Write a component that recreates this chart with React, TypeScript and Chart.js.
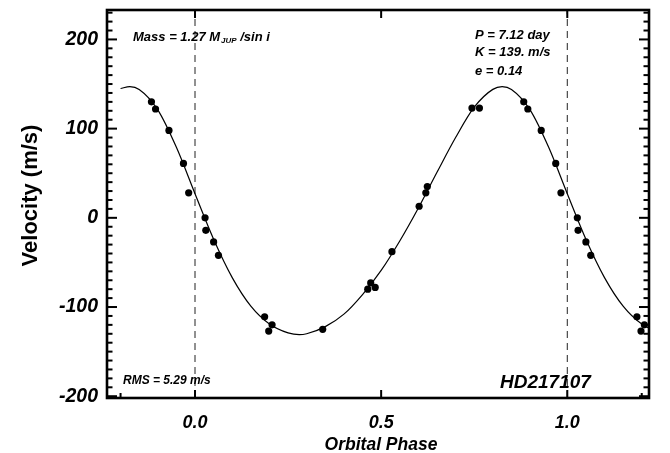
import React, { useEffect, useRef } from "react";
import { Chart, registerables } from "chart.js";

Chart.register(...registerables);

// Observed radial velocities (phase in [0,1), m/s)
const obsPhase = [0.027, 0.029, 0.05, 0.063, 0.187, 0.198, 0.207, 0.343, 0.464, 0.472, 0.484, 0.529, 0.602, 0.62, 0.624, 0.744, 0.764, 0.883, 0.894, 0.93, 0.969, 0.983];
const obsVel = [0, -14, -27, -42, -111, -127, -120, -125, -80, -73, -78, -38, 13, 28, 35, 123, 123, 130, 122, 98, 61, 28];

// Orbit fit curve
const modelPhase = [-0.2, -0.175, -0.15, -0.1, -0.05, 0, 0.05, 0.1, 0.15, 0.2, 0.25, 0.28, 0.3, 0.35, 0.4, 0.45, 0.5, 0.55, 0.6, 0.65, 0.7, 0.75, 0.8, 0.825, 0.85, 0.9, 0.95, 1.0, 1.05, 1.1, 1.15, 1.2, 1.25];
const modelVel = [145, 147, 144, 121, 79, 27, -24, -67, -99, -119, -129, -131, -130, -122, -108, -86, -59, -26, 11, 51, 90, 124, 144, 147, 144, 121, 79, 27, -24, -67, -99, -119, -129];

// Phase window where the observations are repeated
const wrapMin = -0.2;
const wrapMax = 1.21;

// Dashed markers at phase 0 and 1
const markerPhases = [0, 1];

// Axes
const xMin = -0.2364;
const xMax = 1.2195;
const yMin = -202;
const yMax = 233;
const xMajorTicks = [0, 0.5, 1.0];
const xMinorTicks = [-0.2, 1.2];
const yMajorTicks = [-200, -100, 0, 100, 200];
const yMinorStep = 10;

const FONT = "'Liberation Sans', Arial, Helvetica, sans-serif";

function buildObsPoints() {
  const pts: { x: number; y: number }[] = [];
  obsPhase.forEach((p, i) => {
    pts.push({ x: p, y: obsVel[i] });
    if (p - 1 >= wrapMin) pts.push({ x: p - 1, y: obsVel[i] });
    if (p + 1 <= wrapMax) pts.push({ x: p + 1, y: obsVel[i] });
  });
  return pts;
}

function drawTicks(chart: any, ctx: CanvasRenderingContext2D) {
  const a = chart.chartArea;
  const ys = chart.scales.y;
  const xs = chart.scales.x;
  ctx.fillStyle = "#000";
  for (let v = yMajorTicks[0]; v <= yMax; v += yMinorStep) {
    const py = ys.getPixelForValue(v);
    if (py < a.top + 1 || py > a.bottom - 1) continue;
    const len = yMajorTicks.indexOf(v) >= 0 ? 10 : 5.5;
    ctx.fillRect(a.left, py - 1, len, 2);
    ctx.fillRect(a.right - len, py - 1, len, 2);
  }
  xMajorTicks.forEach((v) => {
    const px = xs.getPixelForValue(v);
    ctx.fillRect(px - 1, a.bottom - 8, 2, 8);
    ctx.fillRect(px - 1, a.top, 2, 8);
  });
  xMinorTicks.forEach((v) => {
    const px = xs.getPixelForValue(v);
    ctx.fillRect(px - 1, a.bottom - 5, 2, 5);
  });
}

const framePlugin = {
  id: "framePlugin",
  afterDraw(chart: any) {
    const ctx = chart.ctx as CanvasRenderingContext2D;
    const a = chart.chartArea;
    ctx.save();
    ctx.setLineDash([]);
    ctx.strokeStyle = "#000";
    ctx.fillStyle = "#000";
    ctx.lineWidth = 2.6;
    ctx.strokeRect(a.left, a.top, a.right - a.left, a.bottom - a.top);
    drawTicks(chart, ctx);

    ctx.textAlign = "left";
    ctx.textBaseline = "alphabetic";
    ctx.fillStyle = "#000";
    ctx.font = `italic bold 13px ${FONT}`;
    const massMain = "Mass = 1.27 M";
    ctx.fillText(massMain, 133, 40.5);
    let x = 133 + ctx.measureText(massMain).width + 1;
    ctx.font = `italic bold 8px ${FONT}`;
    ctx.fillText("JUP", x, 43);
    x += ctx.measureText("JUP").width;
    ctx.font = `italic bold 13px ${FONT}`;
    ctx.fillText(" /sin i", x, 40.5);

    ctx.fillText("P = 7.12 day", 475, 38.5);
    ctx.fillText("K = 139. m/s", 475, 55.5);
    ctx.fillText("e = 0.14", 475, 74.5);

    ctx.font = `italic bold 12px ${FONT}`;
    ctx.fillText("RMS = 5.29 m/s", 123, 384);

    ctx.font = `italic bold 19px ${FONT}`;
    ctx.fillText("HD217107", 500, 388);

    ctx.font = `italic bold 17.5px ${FONT}`;
    ctx.textAlign = "center";
    ctx.fillText("Orbital Phase", 381, 449.5);

    ctx.translate(36.5, 195.5);
    ctx.rotate(-Math.PI / 2);
    ctx.font = `bold 22px ${FONT}`;
    ctx.textAlign = "center";
    ctx.fillText("Velocity (m/s)", 0, 0);

    ctx.restore();
  },
};

export default function App() {
  const ref = useRef<HTMLCanvasElement | null>(null);

  useEffect(() => {
    document.body.style.margin = "0";
    if (!ref.current) return;
    const curve = modelPhase.map((p, i) => ({ x: p, y: modelVel[i] }));
    const markerSets = markerPhases.map((p) => ({
      data: [
        { x: p, y: yMin },
        { x: p, y: yMax },
      ],
      showLine: true,
      borderColor: "#222",
      borderWidth: 1,
      borderDash: [7, 5],
      pointRadius: 0,
      order: 3,
    }));

    const chart = new Chart(ref.current, {
      type: "scatter",
      data: {
        datasets: [
          ...markerSets,
          {
            data: curve,
            showLine: true,
            borderColor: "#000",
            borderWidth: 1.2,
            pointRadius: 0,
            tension: 0.4,
            cubicInterpolationMode: "monotone",
            order: 2,
          } as any,
          {
            data: buildObsPoints(),
            showLine: false,
            backgroundColor: "#000",
            borderColor: "#000",
            pointRadius: 3.6,
            pointBorderWidth: 0,
            order: 1,
          },
        ],
      },
      options: {
        responsive: false,
        animation: false,
        layout: { padding: { top: 10, right: 21, left: 0, bottom: 0 } },
        plugins: {
          legend: { display: false },
          tooltip: { enabled: false },
        },
        scales: {
          x: {
            type: "linear",
            min: xMin,
            max: xMax,
            afterBuildTicks: (s: any) => {
              s.ticks = xMajorTicks.map((v) => ({ value: v }));
            },
            afterFit: (s: any) => {
              s.height = 55;
              s.paddingLeft = 0;
              s.paddingRight = 0;
              s.paddingTop = 0;
              s.paddingBottom = 0;
            },
            ticks: {
              callback: (v: any) => Number(v).toFixed(1),
              font: { family: FONT, size: 18, style: "italic", weight: "bold" },
              color: "#000",
              padding: 14,
              maxRotation: 0,
              autoSkip: false,
            },
            grid: { display: false, drawTicks: false },
            border: { display: false },
          },
          y: {
            type: "linear",
            min: yMin,
            max: yMax,
            afterBuildTicks: (s: any) => {
              s.ticks = yMajorTicks.map((v) => ({ value: v }));
            },
            afterFit: (s: any) => {
              s.width = 107;
              s.paddingTop = 0;
              s.paddingBottom = 0;
              s.paddingLeft = 0;
              s.paddingRight = 0;
            },
            ticks: {
              callback: (v: any) => String(v),
              font: { family: FONT, size: 19.5, style: "italic", weight: "bold" },
              color: "#000",
              padding: 9,
              autoSkip: false,
            },
            grid: { display: false, drawTicks: false },
            border: { display: false },
          },
        },
      },
      plugins: [framePlugin],
    });
    return () => chart.destroy();
  }, []);

  return (
    <div style={{ width: 670, height: 453, background: "#fff" }}>
      <canvas ref={ref} width={670} height={453} style={{ display: "block" }} />
    </div>
  );
}
